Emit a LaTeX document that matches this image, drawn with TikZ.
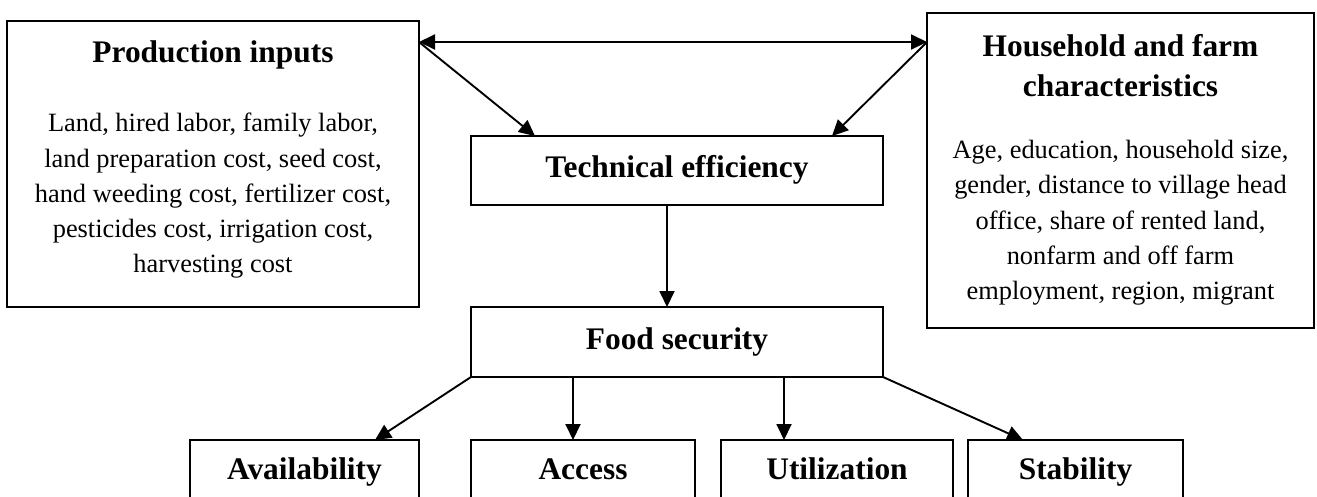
\documentclass[tikz,border=0pt]{standalone}
\usepackage{fontspec}
\setmainfont{Liberation Serif}
\usetikzlibrary{arrows.meta}
\begin{document}
\begin{tikzpicture}[x=1pt,y=-1pt,
  box/.style={draw, line width=2pt, inner sep=0pt, outer sep=0pt, rectangle},
  ttl/.style={font=\fontsize{31.4}{40}\selectfont\bfseries, align=center, inner sep=0pt},
  bodytxt/.style={font=\fontsize{26.4}{35.3}\selectfont, align=center, inner sep=0pt},
  onebox/.style={box, ttl, text height=21pt, text depth=7pt},
  arr/.style={line width=1.9pt, -{Triangle[length=16pt,width=15pt]}},
  darr/.style={line width=1.9pt, {Triangle[length=16pt,width=15pt]}-{Triangle[length=16pt,width=15pt]}},
]
\useasboundingbox (0,0) rectangle (1317,496);
% big boxes
\node[box, minimum width=412pt, minimum height=286pt] (pin) at (213,164) {};
\node[ttl, anchor=base] (pint) at (213,62) {Production inputs};
\node[bodytxt, anchor=north] (pinb) at (213,113) {Land, hired labor, family labor,\\land preparation cost, seed cost,\\hand weeding cost, fertilizer cost,\\pesticides cost, irrigation cost,\\harvesting cost};
\node[box, minimum width=387pt, minimum height=315pt] (hh) at (1120.5,170.5) {};
\node[ttl, anchor=north] (hht) at (1120.5,34) {Household and farm\\characteristics};
\node[bodytxt, anchor=north] (hhb) at (1120.5,140) {Age, education, household size,\\gender, distance to village head\\office, share of rented land,\\nonfarm and off farm\\employment, region, migrant};
% middle boxes
\node[onebox, minimum width=412pt, minimum height=69pt] (te) at (677,170.5) {Technical efficiency};
\node[onebox, minimum width=412pt, minimum height=70pt] (fs) at (677,342) {Food security};
% bottom boxes
\node[onebox, minimum width=229pt, minimum height=64pt] (av) at (304.5,472) {Availability};
\node[onebox, minimum width=224pt, minimum height=64pt] (ac) at (583,472) {Access};
\node[onebox, minimum width=232pt, minimum height=64pt] (ut) at (837,472) {Utilization};
\node[onebox, minimum width=215pt, minimum height=64pt] (st) at (1075.5,472) {Stability};
% connectors
\coordinate (pL) at ([yshift=-21pt]pin.north east);
\coordinate (pR) at ([yshift=-29pt]hh.north west);
\draw[darr] (pL) -- (pR);
\draw[arr] (pL) -- ([xshift=64pt]te.north west);
\draw[arr] (pR) -- ([xshift=-51pt]te.north east);
\draw[arr] ([xshift=-10pt]te.south) -- ([xshift=-10pt]fs.north);
\draw[arr] (fs.south west) -- ([xshift=70.5pt]av.north);
\draw[arr] ([xshift=-10pt]ac.north |- fs.south) -- ([xshift=-10pt]ac.north);
\draw[arr] ([xshift=-53pt]ut.north |- fs.south) -- ([xshift=-53pt]ut.north);
\draw[arr] (fs.south east) -- ([xshift=55pt]st.north west);
\end{tikzpicture}
\end{document}
